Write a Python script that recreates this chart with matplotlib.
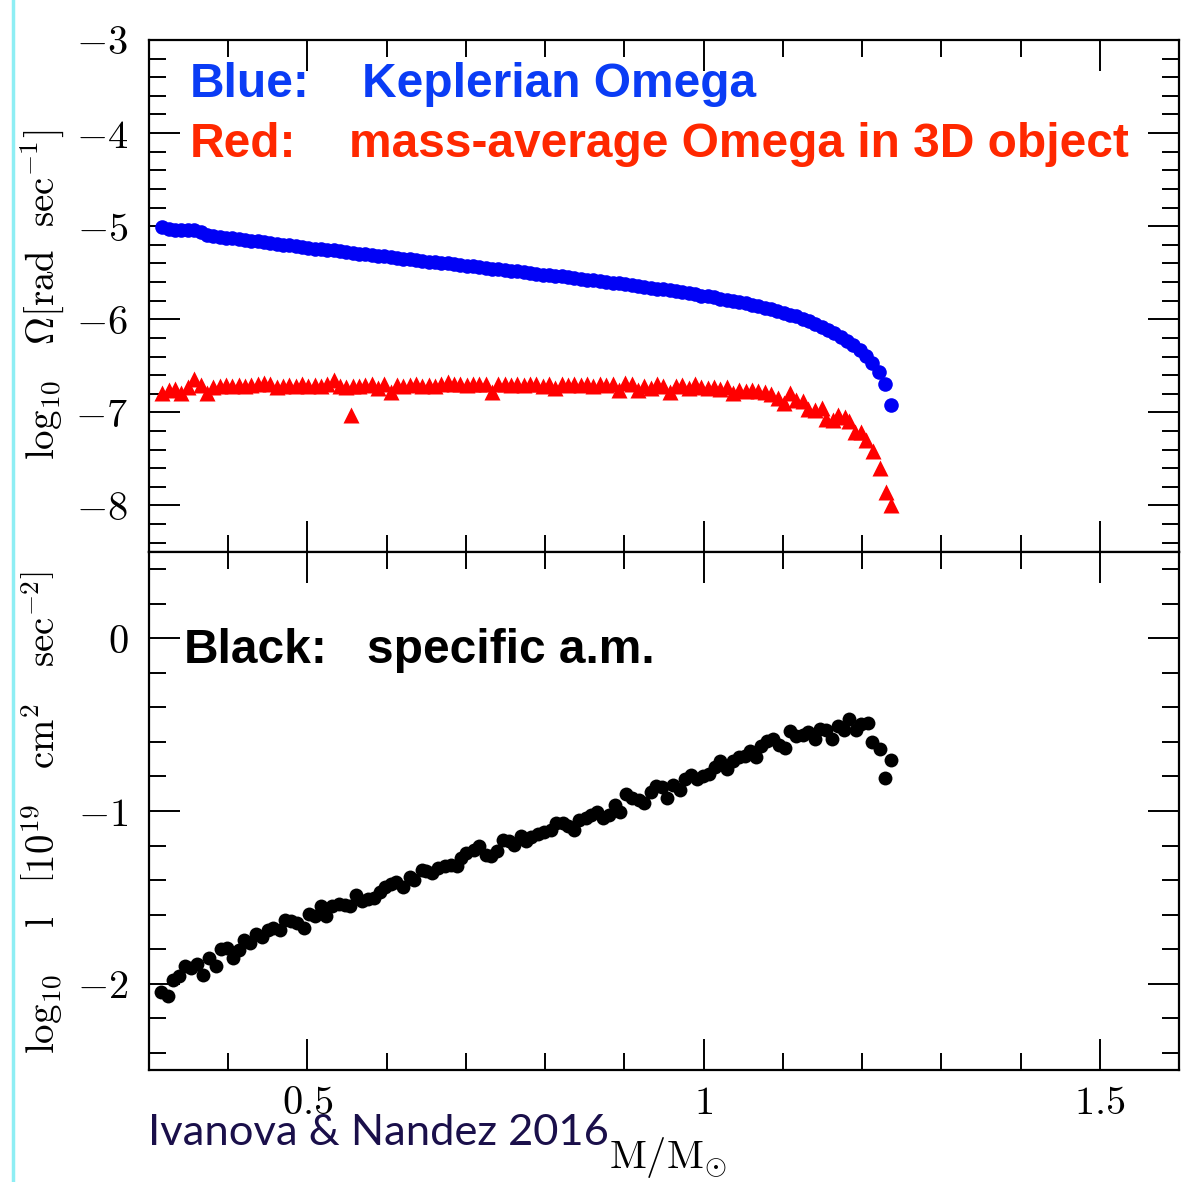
import matplotlib
matplotlib.use("Agg")
import matplotlib.pyplot as plt
from matplotlib.lines import Line2D
from matplotlib.ticker import MultipleLocator, FuncFormatter

plt.rcParams['mathtext.fontset'] = 'cm'
plt.rcParams['font.family'] = ['DejaVu Serif']

# Keplerian Omega (blue)
blue_x = [0.317, 0.325, 0.333, 0.341, 0.349, 0.357, 0.365, 0.373, 0.381, 0.389,
          0.397, 0.405, 0.413, 0.421, 0.429, 0.437, 0.445, 0.453, 0.461, 0.469,
          0.477, 0.485, 0.493, 0.501, 0.509, 0.517, 0.525, 0.533, 0.541, 0.549,
          0.557, 0.565, 0.573, 0.581, 0.589, 0.597, 0.605, 0.613, 0.621, 0.629,
          0.637, 0.645, 0.653, 0.661, 0.669, 0.677, 0.685, 0.693, 0.701, 0.709,
          0.717, 0.725, 0.733, 0.741, 0.749, 0.757, 0.765, 0.773, 0.781, 0.789,
          0.797, 0.805, 0.813, 0.821, 0.829, 0.837, 0.845, 0.853, 0.861, 0.869,
          0.877, 0.885, 0.893, 0.901, 0.909, 0.917, 0.925, 0.933, 0.941, 0.949,
          0.957, 0.965, 0.973, 0.981, 0.989, 0.997, 1.005, 1.013, 1.021, 1.029,
          1.037, 1.045, 1.053, 1.061, 1.069, 1.077, 1.085, 1.093, 1.101, 1.109,
          1.117, 1.125, 1.133, 1.141, 1.149, 1.157, 1.165, 1.173, 1.181, 1.189,
          1.197, 1.205, 1.213, 1.221, 1.229, 1.237]
blue_y = [-5.01, -5.035, -5.04, -5.04, -5.04, -5.04, -5.06, -5.09, -5.105, -5.115,
          -5.125, -5.13, -5.14, -5.145, -5.155, -5.16, -5.17, -5.18, -5.19, -5.20,
          -5.205, -5.215, -5.22, -5.23, -5.24, -5.245, -5.255, -5.26, -5.27, -5.28,
          -5.285, -5.295, -5.30, -5.31, -5.32, -5.325, -5.335, -5.34, -5.35, -5.355,
          -5.365, -5.37, -5.38, -5.385, -5.395, -5.40, -5.41, -5.415, -5.425, -5.43,
          -5.44, -5.445, -5.455, -5.46, -5.47, -5.48, -5.485, -5.495, -5.50, -5.51,
          -5.52, -5.525, -5.535, -5.54, -5.55, -5.555, -5.565, -5.575, -5.58, -5.59,
          -5.60, -5.61, -5.615, -5.625, -5.635, -5.64, -5.65, -5.66, -5.67, -5.68,
          -5.69, -5.70, -5.71, -5.72, -5.73, -5.745, -5.755, -5.765, -5.78, -5.79,
          -5.80, -5.815, -5.83, -5.845, -5.86, -5.875, -5.89, -5.91, -5.93, -5.95,
          -5.97, -5.995, -6.02, -6.05, -6.08, -6.11, -6.15, -6.19, -6.23, -6.28,
          -6.33, -6.39, -6.47, -6.57, -6.69, -6.92]

# mass-average Omega (red)
red_x = [0.317, 0.325, 0.333, 0.341, 0.349, 0.357, 0.365, 0.373, 0.381, 0.389,
         0.397, 0.405, 0.413, 0.421, 0.429, 0.437, 0.445, 0.453, 0.461, 0.469,
         0.477, 0.485, 0.493, 0.501, 0.509, 0.517, 0.525, 0.533, 0.541, 0.549,
         0.555, 0.557, 0.565, 0.573, 0.581, 0.589, 0.597, 0.605, 0.613, 0.621,
         0.629, 0.637, 0.645, 0.653, 0.661, 0.669, 0.677, 0.685, 0.693, 0.701,
         0.709, 0.717, 0.725, 0.733, 0.741, 0.749, 0.757, 0.765, 0.773, 0.781,
         0.789, 0.797, 0.805, 0.813, 0.821, 0.829, 0.837, 0.845, 0.853, 0.861,
         0.869, 0.877, 0.885, 0.893, 0.901, 0.909, 0.917, 0.925, 0.933, 0.941,
         0.949, 0.957, 0.965, 0.973, 0.981, 0.989, 0.997, 1.005, 1.013, 1.021,
         1.029, 1.037, 1.045, 1.053, 1.061, 1.069, 1.077, 1.085, 1.094, 1.102,
         1.109, 1.117, 1.125, 1.132, 1.140, 1.149, 1.155, 1.163, 1.170, 1.178,
         1.184, 1.191, 1.199, 1.205, 1.214, 1.222, 1.230, 1.237]
red_y = [-6.79, -6.76, -6.75, -6.79, -6.73, -6.64, -6.71, -6.79, -6.73, -6.72,
         -6.71, -6.72, -6.71, -6.72, -6.71, -6.69, -6.68, -6.69, -6.73, -6.72,
         -6.71, -6.72, -6.70, -6.72, -6.71, -6.72, -6.70, -6.65, -6.72, -6.73,
         -7.03, -6.72, -6.72, -6.71, -6.69, -6.74, -6.70, -6.78, -6.71, -6.72,
         -6.71, -6.70, -6.72, -6.71, -6.72, -6.70, -6.67, -6.70, -6.69, -6.71,
         -6.70, -6.69, -6.70, -6.78, -6.70, -6.69, -6.71, -6.70, -6.71, -6.70,
         -6.70, -6.72, -6.69, -6.74, -6.70, -6.71, -6.69, -6.71, -6.70, -6.72,
         -6.70, -6.71, -6.70, -6.76, -6.68, -6.70, -6.76, -6.72, -6.74, -6.69,
         -6.72, -6.78, -6.72, -6.71, -6.74, -6.70, -6.73, -6.74, -6.73, -6.75,
         -6.73, -6.79, -6.76, -6.77, -6.76, -6.77, -6.78, -6.80, -6.85, -6.90,
         -6.79, -6.87, -6.88, -6.96, -6.97, -6.95, -7.07, -7.08, -7.03, -7.05,
         -7.09, -7.21, -7.21, -7.30, -7.41, -7.60, -7.86, -8.00]

# specific angular momentum (black)
black_x = [0.315, 0.324, 0.330, 0.338, 0.345, 0.353, 0.361, 0.368, 0.376, 0.384,
           0.391, 0.398, 0.406, 0.413, 0.420, 0.428, 0.435, 0.443, 0.450, 0.457,
           0.465, 0.472, 0.479, 0.487, 0.495, 0.502, 0.510, 0.517, 0.524, 0.531,
           0.540, 0.547, 0.554, 0.561, 0.569, 0.576, 0.584, 0.591, 0.598, 0.606,
           0.612, 0.620, 0.629, 0.635, 0.644, 0.650, 0.657, 0.665, 0.673, 0.681,
           0.689, 0.694, 0.700, 0.710, 0.717, 0.725, 0.732, 0.739, 0.747, 0.754,
           0.761, 0.769, 0.776, 0.782, 0.791, 0.799, 0.808, 0.814, 0.822, 0.829,
           0.836, 0.843, 0.851, 0.858, 0.865, 0.873, 0.880, 0.888, 0.895, 0.902,
           0.910, 0.918, 0.925, 0.933, 0.940, 0.948, 0.954, 0.961, 0.970, 0.977,
           0.984, 0.992, 0.999, 1.007, 1.014, 1.021, 1.029, 1.037, 1.045, 1.052,
           1.059, 1.066, 1.073, 1.080, 1.088, 1.095, 1.103, 1.109, 1.117, 1.125,
           1.132, 1.140, 1.147, 1.155, 1.162, 1.170, 1.177, 1.184, 1.192, 1.199,
           1.207, 1.213, 1.222, 1.229, 1.236]
black_y = [-2.05, -2.07, -1.977, -1.953, -1.895, -1.91, -1.886, -1.95, -1.851, -1.895,
           -1.802, -1.795, -1.853, -1.804, -1.746, -1.766, -1.711, -1.73, -1.688, -1.676,
           -1.688, -1.634, -1.638, -1.649, -1.676, -1.595, -1.61, -1.55, -1.61, -1.55,
           -1.537, -1.547, -1.552, -1.488, -1.52, -1.512, -1.502, -1.469, -1.44, -1.424,
           -1.41, -1.44, -1.382, -1.40, -1.339, -1.347, -1.358, -1.333, -1.32, -1.314,
           -1.32, -1.275, -1.246, -1.227, -1.203, -1.256, -1.262, -1.23, -1.169, -1.173,
           -1.198, -1.145, -1.173, -1.149, -1.136, -1.12, -1.11, -1.068, -1.072, -1.088,
           -1.11, -1.052, -1.043, -1.023, -1.004, -1.043, -1.023, -0.965, -1.004, -0.901,
           -0.926, -0.936, -0.955, -0.888, -0.855, -0.862, -0.926, -0.849, -0.878, -0.816,
           -0.791, -0.816, -0.80, -0.787, -0.746, -0.713, -0.758, -0.713, -0.688, -0.68,
           -0.655, -0.688, -0.622, -0.597, -0.584, -0.616, -0.636, -0.539, -0.564, -0.558,
           -0.545, -0.584, -0.525, -0.529, -0.584, -0.506, -0.533, -0.467, -0.533, -0.494,
           -0.49, -0.603, -0.64, -0.806, -0.703]

W, H = 1184, 1182
fig = plt.figure(figsize=(W / 100, H / 100), dpi=100)
left, right = 149 / W, 1179 / W
ax1 = fig.add_axes([left, 1 - 552 / H, right - left, (552 - 40) / H])
ax2 = fig.add_axes([left, 1 - 1070 / H, right - left, (1070 - 552) / H], sharex=ax1)

ax1.plot(blue_x, blue_y, 'o', color='#0000f5', ms=10.5, mec='none')
ax1.plot(red_x, red_y, '^', color='#ff0000', ms=11, mec='none')
ax2.plot(black_x, black_y, 'o', color='black', ms=10, mec='none')

ax1.set_xlim(0.3, 1.6)
ax1.set_ylim(-8.5, -3)
ax2.set_ylim(-2.5, 0.5)

def mfmt(v, pos):
    return '$%g$' % v

for ax in (ax1, ax2):
    ax.xaxis.set_major_locator(MultipleLocator(0.5))
    ax.xaxis.set_minor_locator(MultipleLocator(0.1))
    ax.yaxis.set_major_locator(MultipleLocator(1))
    ax.yaxis.set_minor_locator(MultipleLocator(0.2))
    ax.tick_params(which='both', direction='in', top=True, right=True, width=1.4)
    ax.tick_params(which='major', length=22)
    ax.tick_params(which='minor', length=12)
    ax.tick_params(axis='y', labelsize=29, pad=15)
    ax.tick_params(axis='x', labelsize=29, pad=11)
    ax.yaxis.set_major_formatter(FuncFormatter(mfmt))
    ax.xaxis.set_major_formatter(FuncFormatter(mfmt))
    for sp in ax.spines.values():
        sp.set_linewidth(1.6)
ax1.tick_params(axis='x', labelbottom=False)

def px(x, y):
    return x / W, 1 - y / H

fs = 34.5
bold = dict(fontsize=fs, fontweight='bold', family='Liberation Sans', va='baseline')
fig.text(*px(190, 97), 'Blue:', color='#0a3cf5', **bold)
fig.text(*px(362, 97), 'Keplerian Omega', color='#0a3cf5', **bold)
fig.text(*px(190, 157), 'Red:', color='#ff2800', **bold)
fig.text(*px(349, 157), 'mass-average Omega in 3D object', color='#ff2800', **bold)
fig.text(*px(184, 663), 'Black:', color='black', **bold)
fig.text(*px(367, 663), 'specific a.m.', color='black', **bold)

fig.text(*px(42, 295), r'$\mathrm{log_{10}}\ \ \ \Omega[\mathrm{rad\ \ sec^{-1}}]$',
         rotation=90, fontsize=28, ha='center', va='center')
fig.text(*px(42, 812),
         r'$\mathrm{log_{10}\ \ \ \ l\ \ \ \left[10^{19}\ \ \ cm^{2}\ \ \ sec^{-2}\right]}$',
         rotation=90, fontsize=28, ha='center', va='center')

fig.text(*px(148, 1145), 'Ivanova & Nandez 2016', color='#1a0f4a', fontsize=31.3,
         family='Lato', va='baseline')
fig.text(*px(668, 1157), r'$\mathrm{M/M_{\odot}}$', fontsize=29, ha='center', va='center')

fig.add_artist(Line2D([13 / W, 13 / W], [0, 1], color='#8eeef4', lw=2.5,
                      transform=fig.transFigure))

fig.savefig('out.png', dpi=100)
